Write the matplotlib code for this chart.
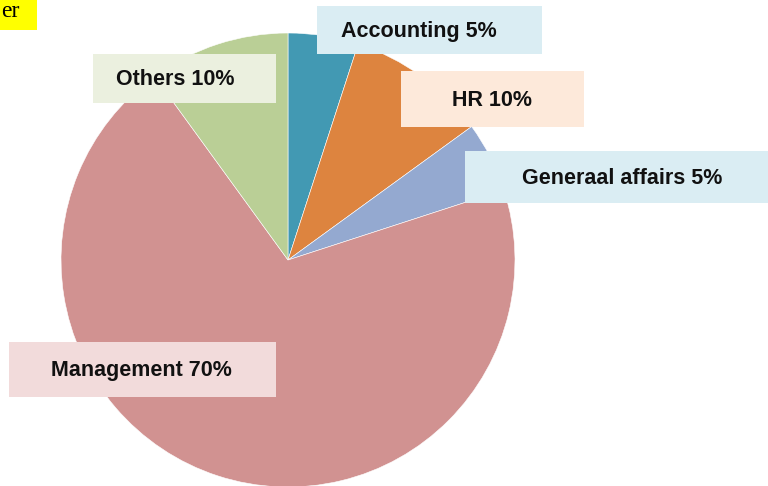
import matplotlib
matplotlib.use("Agg")
import matplotlib.pyplot as plt
from matplotlib.patches import Rectangle

# data
departments = ["Accounting", "HR", "Generaal affairs", "Management", "Others"]
shares = [5, 10, 5, 70, 10]
slice_colors = ["#4299b3", "#dd843f", "#94a9d0", "#d19291", "#bacf96"]
box_colors = ["#daedf3", "#fde9da", "#daedf3", "#f2dbdb", "#ebf0df"]

# label boxes in pixel coords (left, top, right, bottom) and text centres
boxes = [(317, 6, 542, 54), (401, 71, 584, 127), (465, 151, 768, 203),
         (9, 342, 276, 397), (93, 54, 276, 103)]
text_x = [419, 492, 622, 141, 175]

W, H = 768, 486
fig = plt.figure(figsize=(W / 100, H / 100), dpi=100)
ax = fig.add_axes([0, 0, 1, 1])
ax.axis("off")

ax.pie(shares, colors=slice_colors, startangle=90, counterclock=False,
       center=(288, H - 260), radius=227,
       wedgeprops=dict(edgecolor="white", linewidth=0.4))
ax.set_xlim(0, W)
ax.set_ylim(0, H)
ax.set_aspect("equal")

for name, pct, (l, t, r, b), c, tx in zip(departments, shares, boxes, box_colors, text_x):
    ax.add_patch(Rectangle((l, H - b), r - l, b - t, facecolor=c, edgecolor="none", zorder=3))
    ax.text(tx, H - (t + b) / 2 - 1, "{} {}%".format(name, pct),
            ha="center", va="center", fontsize=15.5, fontweight="bold",
            family="Liberation Sans", color="#111111", zorder=4)

# title fragment in the corner
ax.add_patch(Rectangle((0, H - 30), 37, 30, facecolor="#ffff00", edgecolor="none", zorder=3))
ax.text(1, H - 1, "er", ha="left", va="top", fontsize=17, family="Liberation Serif", zorder=4)

fig.savefig("out.png", dpi=100)
